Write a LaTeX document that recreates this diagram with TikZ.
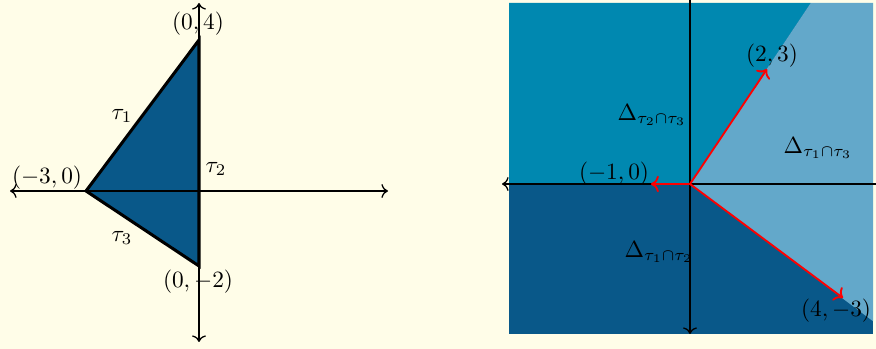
\documentclass[tikz,border=0pt]{standalone}
\usetikzlibrary{arrows.meta}
\definecolor{darkb}{RGB}{9,88,137}
\definecolor{medb}{RGB}{0,136,176}
\definecolor{lightb}{RGB}{99,168,202}
\definecolor{bgc}{RGB}{255,253,232}
\begin{document}
\begin{tikzpicture}[x=0.4286pt,y=-0.4286pt,
  axis/.style={line width=0.55pt,black},
  edge/.style={line width=1.3pt,black,line join=miter},
  vec/.style={line width=0.8pt,red,->},
  lbl/.style={inner sep=0pt}]
\fill[bgc] (0,0) rectangle (876,349);
\useasboundingbox (0,0) rectangle (876,349);
% ---------- left: triangle ----------
\coordinate (O1) at (199,191);
\coordinate (A) at (86,191);
\coordinate (B) at (199,40);
\coordinate (C) at (199,266);
\coordinate (xl) at (10,191);
\coordinate (xr) at (388,191);
\coordinate (yt) at (199,3);
\coordinate (yb) at (199,342);
\fill[darkb] (A) -- (B) -- (C) -- cycle;
\draw[axis,<->] (xl) -- (xr);
\draw[axis,<->] (yt) -- (yb);
\draw[edge] (A) -- (B) -- (C) -- cycle;
\node[lbl] (lB) at (198,24) {$(0,4)$};
\node[lbl] (lA) at (47,178) {$(-3,0)$};
\node[lbl] (lC) at (198,282) {$(0,-2)$};
\node[lbl] (t1) at (122,116) {$\tau_1$};
\node[lbl] (t2) at (216,169) {$\tau_2$};
\node[lbl] (t3) at (122,238) {$\tau_3$};
% ---------- right: fan ----------
\coordinate (O2) at (690,184);
\fill[darkb] (509,3) rectangle (873,334);
\fill[medb] (O2) -- (509,184) -- (509,3) -- (810.7,3) -- cycle;
\fill[lightb] (O2) -- (810.7,3) -- (873,3) -- (873,321.25) -- cycle;
\coordinate (xl2) at (502,184);
\coordinate (xr2) at (876,184);
\coordinate (yt2) at (690,0);
\coordinate (yb2) at (690,334);
\draw[axis,<-] (xl2) -- (xr2);
\draw[axis,->] (yt2) -- (yb2);
\coordinate (v1) at (767,69);
\coordinate (v2) at (651,184);
\coordinate (v3) at (843,298);
\draw[vec] (O2) -- (v1);
\draw[vec] (O2) -- (v2);
\draw[vec] (O2) -- (v3);
\node[lbl] (l1) at (772,56) {$(2,3)$};
\node[lbl] (l2) at (614,174) {$(-1,0)$};
\node[lbl] (l3) at (836,311) {$(4,-3)$};
\node[lbl] (d23) at (652,115) {$\Delta_{\tau_2\cap\tau_3}$};
\node[lbl] (d13) at (818,148) {$\Delta_{\tau_1\cap\tau_3}$};
\node[lbl] (d12) at (659,252) {$\Delta_{\tau_1\cap\tau_2}$};
\end{tikzpicture}
\end{document}
